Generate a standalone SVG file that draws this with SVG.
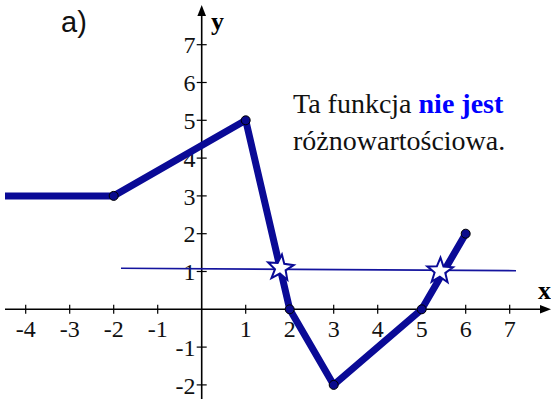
<svg xmlns="http://www.w3.org/2000/svg" width="551" height="399" viewBox="0 0 551 399">
<defs>
<style>
.ax{stroke:#000;stroke-width:1.6;fill:none}
.tk{stroke:#000;stroke-width:1.2}
.dot{fill:#0a0a8c;stroke:#000;stroke-width:1}
.star{fill:#fff;stroke:#0a0a96;stroke-width:2;stroke-linejoin:miter}
</style>
<polygon id="star" points="0,-13.5 3.3,-4.6 12.84,-4.17 5.35,1.74 7.94,10.92 0,5.6 -7.94,10.92 -5.35,1.74 -12.84,-4.17 -3.3,-4.6"/>
</defs>
<rect width="551" height="399" fill="#fff"/>
<g id="axes">
<line class="ax" x1="5" y1="309.3" x2="543" y2="309.3"/>
<polygon points="551,309.3 540,305 540,313.6" fill="#000"/>
<line class="ax" x1="201.7" y1="14" x2="201.7" y2="399"/>
<polygon points="201.7,5 197.4,16 206,16" fill="#000"/>
<g id="xticks">
<line class="tk" x1="25.7" y1="304.8" x2="25.7" y2="313.8"/>
<line class="tk" x1="69.7" y1="304.8" x2="69.7" y2="313.8"/>
<line class="tk" x1="113.7" y1="304.8" x2="113.7" y2="313.8"/>
<line class="tk" x1="157.7" y1="304.8" x2="157.7" y2="313.8"/>
<line class="tk" x1="245.7" y1="304.8" x2="245.7" y2="313.8"/>
<line class="tk" x1="289.7" y1="304.8" x2="289.7" y2="313.8"/>
<line class="tk" x1="333.7" y1="304.8" x2="333.7" y2="313.8"/>
<line class="tk" x1="377.7" y1="304.8" x2="377.7" y2="313.8"/>
<line class="tk" x1="421.7" y1="304.8" x2="421.7" y2="313.8"/>
<line class="tk" x1="465.7" y1="304.8" x2="465.7" y2="313.8"/>
<line class="tk" x1="509.7" y1="304.8" x2="509.7" y2="313.8"/>
</g>
<g id="yticks">
<line class="tk" x1="196.7" y1="44.7" x2="206.7" y2="44.7"/>
<line class="tk" x1="196.7" y1="82.5" x2="206.7" y2="82.5"/>
<line class="tk" x1="196.7" y1="120.3" x2="206.7" y2="120.3"/>
<line class="tk" x1="196.7" y1="158.1" x2="206.7" y2="158.1"/>
<line class="tk" x1="196.7" y1="195.9" x2="206.7" y2="195.9"/>
<line class="tk" x1="196.7" y1="233.7" x2="206.7" y2="233.7"/>
<line class="tk" x1="196.7" y1="271.5" x2="206.7" y2="271.5"/>
<line class="tk" x1="196.7" y1="347.1" x2="206.7" y2="347.1"/>
<line class="tk" x1="196.7" y1="384.9" x2="206.7" y2="384.9"/>
</g>
<g id="xlabels" font-family="Liberation Serif, Times New Roman, serif" font-size="24" fill="#111" text-anchor="middle">
<text x="25.7" y="336.5">-4</text>
<text x="69.7" y="336.5">-3</text>
<text x="113.7" y="336.5">-2</text>
<text x="157.7" y="336.5">-1</text>
<text x="245.7" y="336.5">1</text>
<text x="289.7" y="336.5">2</text>
<text x="333.7" y="336.5">3</text>
<text x="377.7" y="336.5">4</text>
<text x="421.7" y="336.5">5</text>
<text x="465.7" y="336.5">6</text>
<text x="509.7" y="336.5">7</text>
</g>
<g id="ylabels" font-family="Liberation Serif, Times New Roman, serif" font-size="24" fill="#111" text-anchor="end">
<text x="195.5" y="53.3">7</text>
<text x="195.5" y="91.1">6</text>
<text x="195.5" y="128.9">5</text>
<text x="195.5" y="166.7">4</text>
<text x="195.5" y="204.5">3</text>
<text x="195.5" y="242.3">2</text>
<text x="195.5" y="280.1">1</text>
<text x="195.5" y="355.7">-1</text>
<text x="195.5" y="393.5">-2</text>
</g>
<text id="xname" x="538" y="299" font-family="Liberation Serif, Times New Roman, serif" font-size="26" font-weight="bold" fill="#000">x</text>
<text id="yname" x="211" y="30" font-family="Liberation Serif, Times New Roman, serif" font-size="26" font-weight="bold" fill="#000">y</text>
</g>
<text id="title" x="61" y="32" font-family="Liberation Sans, Arial, sans-serif" font-size="29" fill="#111">a)</text>
<g id="note" font-family="Liberation Serif, DejaVu Serif, serif" font-size="28" fill="#111">
<text x="293" y="113">Ta funkcja <tspan font-weight="bold" fill="#0000ff">nie jest</tspan></text>
<text x="293" y="150">różnowartościowa.</text>
</g>
<g id="connectors">
<line id="hline" x1="121" y1="268.3" x2="516" y2="270.7" stroke="#14149e" stroke-width="1.6"/>
<polyline id="graph" points="5,195.9 113.7,195.9 245.7,120.3 289.7,309.3 333.7,384.9 421.7,309.3 465.7,233.7" fill="none" stroke="#0a0a96" stroke-width="7" stroke-linejoin="round"/>
</g>
<g id="points">
<circle class="dot" cx="113.7" cy="195.9" r="4.5"/>
<circle class="dot" cx="245.7" cy="120.3" r="4.5"/>
<circle class="dot" cx="289.7" cy="309.3" r="4.5"/>
<circle class="dot" cx="333.7" cy="384.9" r="4.5"/>
<circle class="dot" cx="421.7" cy="309.3" r="4.5"/>
<circle class="dot" cx="465.7" cy="233.7" r="4.5"/>
</g>
<g id="stars">
<use href="#star" class="star" transform="translate(280.5,268) rotate(6)"/>
<use href="#star" class="star" transform="translate(440,271) rotate(2)"/>
</g>
</svg>
